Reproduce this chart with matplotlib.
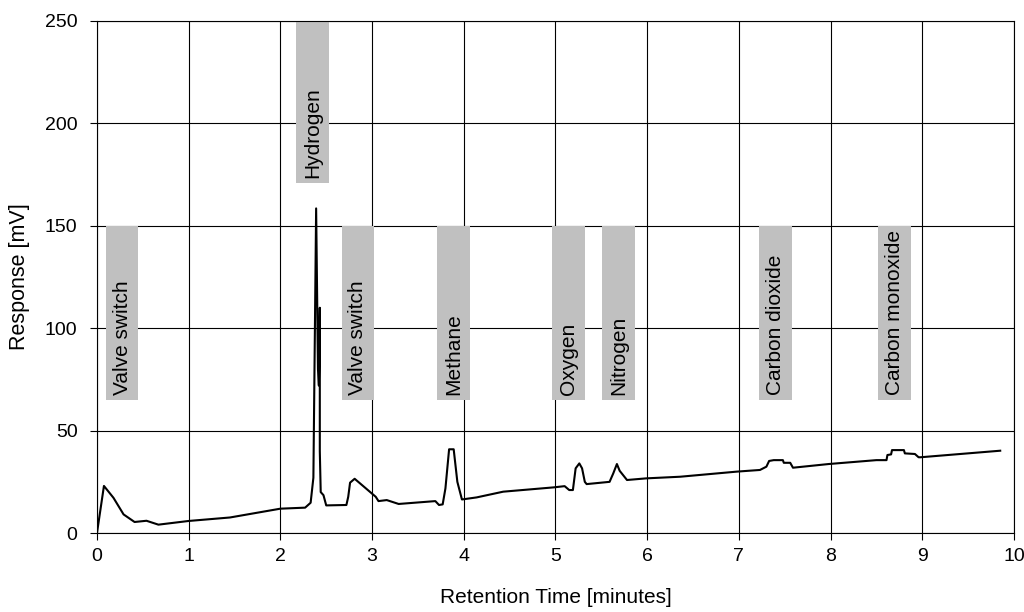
import matplotlib
matplotlib.use("Agg")
import matplotlib.pyplot as plt

plt.rcParams['font.family'] = ['Liberation Sans', 'DejaVu Sans']

# chromatogram trace (minutes, mV)
time_min = [0.0, 0.076, 0.18, 0.29, 0.41, 0.54, 0.67, 1.0, 1.45, 2.0, 2.27, 2.33,
            2.36, 2.39, 2.41, 2.42, 2.43, 2.43, 2.44, 2.47, 2.50, 2.72, 2.74, 2.76,
            2.81, 3.04, 3.07, 3.16, 3.29, 3.69, 3.73, 3.77, 3.80, 3.84, 3.89, 3.93,
            3.98, 4.14, 4.43, 4.98, 5.10, 5.15, 5.19, 5.22, 5.26, 5.29, 5.32, 5.34,
            5.59, 5.63, 5.67, 5.70, 5.78, 5.99, 6.36, 6.98, 7.23, 7.30, 7.33, 7.38,
            7.48, 7.49, 7.56, 7.59, 7.98, 8.50, 8.61, 8.62, 8.66, 8.67, 8.80, 8.81,
            8.92, 8.96, 8.98, 9.85]
response_mv = [0.0, 23.0, 17.2, 9.1, 5.4, 6.0, 4.1, 5.9, 7.6, 11.9, 12.4, 14.8,
               27.0, 158.5, 80.0, 72.0, 110.0, 40.0, 20.0, 18.5, 13.5, 13.7, 17.7, 24.6,
               26.5, 17.7, 15.6, 16.1, 14.2, 15.6, 13.7, 14.0, 21.8, 40.9, 40.9, 25.0,
               16.4, 17.4, 20.2, 22.3, 22.9, 21.0, 21.0, 31.6, 34.0, 31.6, 25.0, 23.9,
               25.0, 29.1, 33.7, 30.4, 25.9, 26.7, 27.5, 30.0, 30.8, 32.4, 35.2, 35.6,
               35.6, 34.3, 34.3, 31.9, 33.7, 35.6, 35.6, 38.1, 38.4, 40.5, 40.5, 38.9,
               38.6, 37.0, 37.0, 40.2]

# peak labels: name, left edge, right edge, bottom, top
label_names = ['Valve switch', 'Hydrogen', 'Valve switch', 'Methane', 'Oxygen',
               'Nitrogen', 'Carbon dioxide', 'Carbon monoxide']
label_left = [0.10, 2.17, 2.67, 3.71, 4.96, 5.51, 7.22, 8.52]
label_right = [0.45, 2.53, 3.02, 4.07, 5.32, 5.87, 7.58, 8.88]
label_bottom = [65, 171, 65, 65, 65, 65, 65, 65]
label_top = [150, 250, 150, 150, 150, 150, 150, 150]

fig = plt.figure(figsize=(10.24, 6.12), dpi=100)
ax = fig.add_axes([0.0947, 0.129, 0.8955, 0.8367])

for name, l, r, b, t in zip(label_names, label_left, label_right, label_bottom, label_top):
    ax.bar((l + r) / 2, t - b, width=r - l, bottom=b, color='#c0c0c0', zorder=2)
    ax.text((l + r) / 2, b + 2.3, name, rotation=90, ha='center', va='bottom',
            fontsize=15, zorder=3)

ax.plot(time_min, response_mv, color='black', linewidth=1.5, zorder=4)

ax.set_xlim(0, 10)
ax.set_ylim(0, 250)
ax.set_xticks(range(0, 11))
ax.set_yticks(range(0, 251, 50))
ax.grid(True, color='black', linewidth=0.8, zorder=1)
ax.set_axisbelow(True)
for s in ax.spines.values():
    s.set_color('black')
    s.set_linewidth(0.8)
ax.tick_params(direction='out', length=5, width=0.8, labelsize=14, pad=6)
ax.tick_params(axis='y', pad=9)
ax.set_xlabel('Retention Time [minutes]', fontsize=15, labelpad=16)
ax.set_ylabel('Response [mV]', fontsize=15.5, labelpad=11)

fig.savefig('out.png', dpi=100)
